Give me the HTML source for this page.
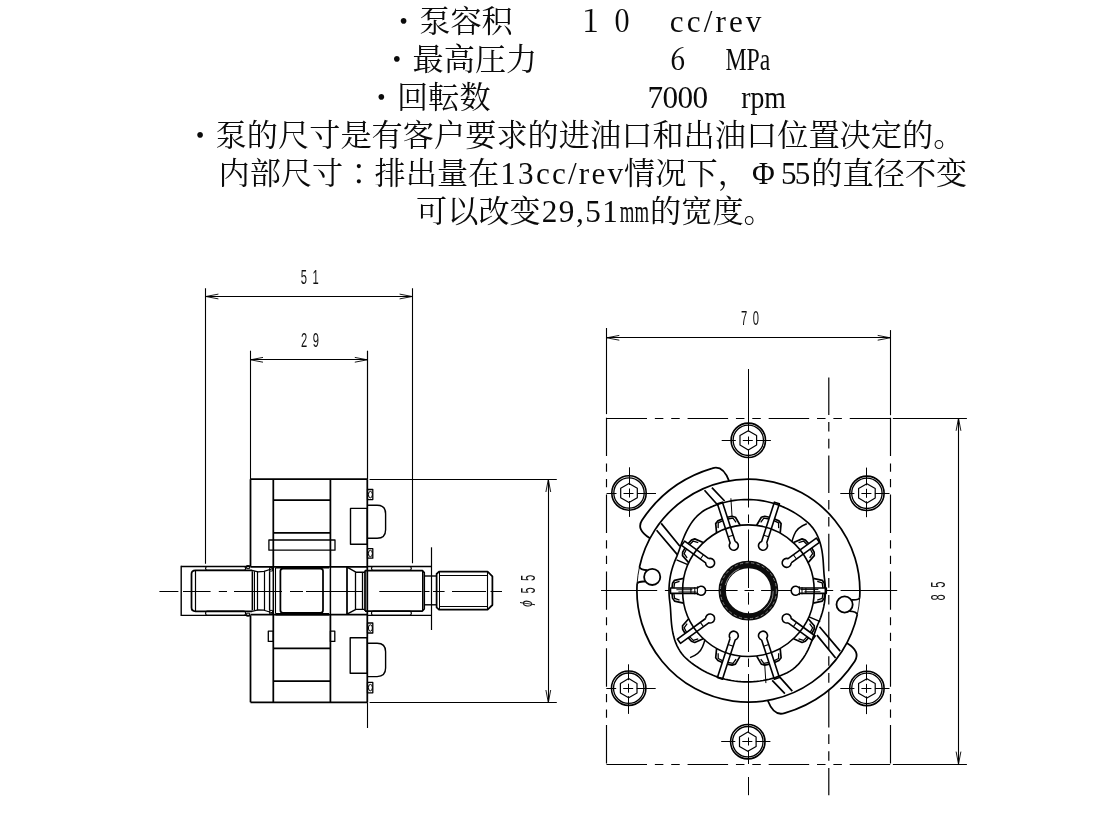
<!DOCTYPE html>
<html lang="zh"><head><meta charset="utf-8"><title>泵容积</title>
<style>html,body{margin:0;padding:0;background:#fff;}body{width:1099px;height:813px;overflow:hidden;}svg{display:block;filter:grayscale(1);}.t{font-family:"Liberation Serif","Noto Serif CJK SC",serif;font-size:31.2px;fill:#0a0a0a;stroke:none;}</style></head><body>
<svg width="1099" height="813" viewBox="0 0 1099 813" fill="none" stroke="#000" stroke-linecap="butt" stroke-linejoin="round">
<rect x="0" y="0" width="1099" height="813" fill="#fff" stroke="none"/>
<text class="t c" x="388.0" y="31.5" textLength="124.8" lengthAdjust="spacing">・泵容积</text>
<text class="t c" x="583.0 614.2" y="31.5" style="font-feature-settings:'hwid'">１０</text>
<text class="t" x="669.8" y="31.5" textLength="91.6" lengthAdjust="spacing">cc/rev</text>
<text class="t c" x="381.3" y="69.5" textLength="156.0" lengthAdjust="spacing">・最高圧力</text>
<text class="t c" x="669.9" y="69.5" style="font-feature-settings:'hwid'">６</text>
<text class="t" x="725.5" y="69.5" textLength="44.8" lengthAdjust="spacingAndGlyphs">MPa</text>
<text class="t c" x="365.8" y="107.5" textLength="124.8" lengthAdjust="spacing">・回転数</text>
<text class="t" x="647.6" y="107.5" textLength="60.4" lengthAdjust="spacing">7000</text>
<text class="t" x="741.2" y="107.5" textLength="44.8" lengthAdjust="spacingAndGlyphs">rpm</text>
<text class="t c" x="184.4" y="145.5" textLength="780.0" lengthAdjust="spacing">・泵的尺寸是有客户要求的进油口和出油口位置决定的。</text>
<text class="t c" x="218.5" y="183.5" textLength="280.8" lengthAdjust="spacing">内部尺寸<tspan lang="ja">：</tspan>排出量在</text>
<text class="t" x="500.3" y="183.5" textLength="122.8" lengthAdjust="spacing">13cc/rev</text>
<text class="t c" x="624.1" y="183.5" textLength="124.8" lengthAdjust="spacing">情况下，</text>
<text class="t c" x="763.5" y="183.5" text-anchor="middle">Φ</text>
<text class="t" x="781.1" y="183.5" textLength="29.2" lengthAdjust="spacing">55</text>
<text class="t c" x="811.3" y="183.5" textLength="156.0" lengthAdjust="spacing">的直径不变</text>
<text class="t c" x="416.0" y="221.5" textLength="124.8" lengthAdjust="spacing">可以改变</text>
<text class="t" x="541.8" y="221.5" textLength="76.0" lengthAdjust="spacing">29,51</text>
<text class="t" x="619.8" y="221.5" textLength="29.2" lengthAdjust="spacingAndGlyphs">mm</text>
<text class="t c" x="650.0" y="221.5" textLength="124.8" lengthAdjust="spacing">的宽度。</text>
<line x1="205.50" y1="288.20" x2="205.50" y2="563.70" stroke-width="1.1"/>
<line x1="412.50" y1="288.20" x2="412.50" y2="563.30" stroke-width="1.1"/>
<line x1="205.90" y1="296.50" x2="412.10" y2="296.50" stroke-width="1.1"/>
<path d="M218.40,294.10 L205.90,296.50 L218.40,298.90" stroke-width="0.9"/>
<path d="M399.60,298.90 L412.10,296.50 L399.60,294.10" stroke-width="0.9"/>
<text transform="translate(309.80,283.90) rotate(0) scale(0.56,1)" x="4.98" y="0" font-family="'Liberation Sans', sans-serif" font-size="20.0" letter-spacing="9.95" text-anchor="middle" fill="#111" stroke="none">51</text>
<line x1="250.50" y1="350.70" x2="250.50" y2="479.20" stroke-width="1.1"/>
<line x1="367.50" y1="350.70" x2="367.50" y2="479.20" stroke-width="1.2"/>
<line x1="250.50" y1="359.50" x2="367.30" y2="359.50" stroke-width="1.1"/>
<path d="M263.00,357.40 L250.50,359.80 L263.00,362.20" stroke-width="0.9"/>
<path d="M354.80,362.20 L367.30,359.80 L354.80,357.40" stroke-width="0.9"/>
<text transform="translate(309.90,347.30) rotate(0) scale(0.56,1)" x="4.98" y="0" font-family="'Liberation Sans', sans-serif" font-size="20.0" letter-spacing="9.95" text-anchor="middle" fill="#111" stroke="none">29</text>
<line x1="369.60" y1="479.50" x2="556.80" y2="479.50" stroke-width="1.1"/>
<line x1="369.60" y1="702.50" x2="556.80" y2="702.50" stroke-width="1.1"/>
<line x1="548.50" y1="479.50" x2="548.50" y2="702.50" stroke-width="1.1"/>
<path d="M550.70,492.00 L548.30,479.50 L545.90,492.00" stroke-width="0.9"/>
<path d="M545.90,690.00 L548.30,702.50 L550.70,690.00" stroke-width="0.9"/>
<text transform="translate(534.80,584.20) rotate(-90) scale(0.56,1)" x="5.51" y="0" font-family="'Liberation Sans', sans-serif" font-size="20.0" letter-spacing="11.02" text-anchor="middle" fill="#111" stroke="none">55</text>
<text transform="translate(532.4,603.6) rotate(-90) scale(0.72,1)" font-family="'Liberation Sans', sans-serif" font-style="italic" font-size="17" text-anchor="middle" fill="#111" stroke="none">ϕ</text>
<line x1="159.40" y1="591.50" x2="178.40" y2="591.50" stroke-width="1.0"/>
<line x1="183.00" y1="591.50" x2="210.60" y2="591.50" stroke-width="1.0"/>
<line x1="218.80" y1="591.50" x2="227.00" y2="591.50" stroke-width="1.0"/>
<line x1="234.00" y1="591.50" x2="282.00" y2="591.50" stroke-width="1.0"/>
<line x1="290.00" y1="591.50" x2="303.00" y2="591.50" stroke-width="1.0"/>
<line x1="306.00" y1="591.50" x2="363.00" y2="591.50" stroke-width="1.0"/>
<line x1="379.30" y1="591.50" x2="421.50" y2="591.50" stroke-width="1.0"/>
<line x1="425.00" y1="591.50" x2="429.50" y2="591.50" stroke-width="1.0"/>
<line x1="433.00" y1="591.50" x2="444.60" y2="591.50" stroke-width="1.0"/>
<line x1="452.00" y1="591.50" x2="486.00" y2="591.50" stroke-width="1.0"/>
<line x1="490.50" y1="591.50" x2="502.00" y2="591.50" stroke-width="1.0"/>
<line x1="181.20" y1="566.50" x2="250.50" y2="566.50" stroke-width="1.4"/>
<line x1="181.20" y1="615.40" x2="250.50" y2="615.40" stroke-width="1.4"/>
<line x1="181.20" y1="565.80" x2="181.20" y2="616.10" stroke-width="1.4"/>
<line x1="367.30" y1="566.50" x2="431.10" y2="566.50" stroke-width="1.4"/>
<line x1="367.30" y1="615.40" x2="431.10" y2="615.40" stroke-width="1.4"/>
<line x1="431.50" y1="547.30" x2="431.50" y2="630.00" stroke-width="1.2"/>
<rect x="205.60" y="566.50" width="40.00" height="3.90" rx="1.8" stroke-width="1.2"/>
<rect x="205.60" y="611.20" width="40.00" height="4.20" rx="1.8" stroke-width="1.2"/>
<rect x="371.50" y="566.50" width="39.80" height="3.90" rx="1.8" stroke-width="1.2"/>
<rect x="371.50" y="611.20" width="39.80" height="4.20" rx="1.8" stroke-width="1.2"/>
<line x1="250.50" y1="479.20" x2="367.30" y2="479.20" stroke-width="1.75"/>
<line x1="250.50" y1="702.30" x2="367.30" y2="702.30" stroke-width="1.75"/>
<line x1="250.50" y1="479.20" x2="250.50" y2="566.50" stroke-width="1.75"/>
<line x1="250.50" y1="615.40" x2="250.50" y2="702.30" stroke-width="1.75"/>
<line x1="367.30" y1="479.20" x2="367.30" y2="702.30" stroke-width="1.75"/>
<line x1="367.50" y1="702.30" x2="367.50" y2="728.00" stroke-width="1.1"/>
<line x1="250.50" y1="566.80" x2="367.30" y2="566.80" stroke-width="1.75"/>
<line x1="250.50" y1="614.60" x2="367.30" y2="614.60" stroke-width="1.75"/>
<line x1="273.30" y1="479.20" x2="273.30" y2="566.80" stroke-width="1.75"/>
<line x1="273.30" y1="614.60" x2="273.30" y2="702.30" stroke-width="1.75"/>
<line x1="330.40" y1="479.20" x2="330.40" y2="566.80" stroke-width="1.75"/>
<line x1="330.40" y1="614.60" x2="330.40" y2="702.30" stroke-width="1.75"/>
<line x1="273.30" y1="500.00" x2="330.40" y2="500.00" stroke-width="1.75"/>
<line x1="273.30" y1="532.90" x2="330.40" y2="532.90" stroke-width="1.75"/>
<line x1="273.30" y1="648.40" x2="330.40" y2="648.40" stroke-width="1.75"/>
<line x1="273.30" y1="681.00" x2="330.40" y2="681.00" stroke-width="1.75"/>
<rect x="268.90" y="540.00" width="66.10" height="10.20" stroke-width="1.3"/>
<rect x="268.30" y="631.20" width="5.00" height="10.20" stroke-width="1.3"/>
<rect x="330.40" y="631.20" width="4.40" height="10.20" stroke-width="1.3"/>
<rect x="350.50" y="508.40" width="16.80" height="35.90" stroke-width="1.4"/>
<rect x="350.20" y="637.80" width="17.10" height="35.50" stroke-width="1.4"/>
<path d="M368.0,505.2 L377.1,505.2 Q385.6,505.2 385.6,513.7 L385.6,529.8 Q385.6,538.3 377.1,538.3 L368.0,538.3" stroke-width="1.4"/>
<path d="M368.0,643.3 L377.1,643.3 Q385.6,643.3 385.6,651.8 L385.6,668.1 Q385.6,676.6 377.1,676.6 L368.0,676.6" stroke-width="1.4"/>
<rect x="367.50" y="489.50" width="5.30" height="10.10" stroke-width="1.3"/>
<ellipse cx="370.4" cy="494.6" rx="2.0" ry="3.2" stroke-width="1"/>
<rect x="367.50" y="548.70" width="5.30" height="9.50" stroke-width="1.3"/>
<ellipse cx="370.4" cy="553.5" rx="2.0" ry="3.2" stroke-width="1"/>
<rect x="367.50" y="623.00" width="5.30" height="10.00" stroke-width="1.3"/>
<ellipse cx="370.4" cy="628.0" rx="2.0" ry="3.2" stroke-width="1"/>
<rect x="367.50" y="682.40" width="5.30" height="10.40" stroke-width="1.3"/>
<ellipse cx="370.4" cy="687.6" rx="2.0" ry="3.2" stroke-width="1"/>
<path d="M252,570.3 L195.5,570.3 Q191.5,570.3 191.5,574 L191.5,607.6 Q191.5,611.3 195.5,611.3 L252,611.3" stroke-width="1.75"/>
<line x1="195.50" y1="570.30" x2="195.50" y2="611.30" stroke-width="1.2"/>
<line x1="252.40" y1="571.20" x2="252.40" y2="610.40" stroke-width="1.6"/>
<line x1="254.50" y1="571.20" x2="254.50" y2="610.40" stroke-width="1.0"/>
<line x1="257.50" y1="571.20" x2="257.50" y2="610.40" stroke-width="1.2"/>
<line x1="264.50" y1="571.20" x2="264.50" y2="610.40" stroke-width="1.2"/>
<line x1="269.60" y1="571.20" x2="269.60" y2="610.40" stroke-width="1.4"/>
<path d="M252,570.3 L258,571.8 L264,571.4 L273,568.5" stroke-width="1.2"/>
<path d="M252,611.3 L258,609.8 L264,610.2 L273,613.0" stroke-width="1.2"/>
<rect x="280.40" y="568.60" width="42.60" height="44.20" rx="2.5" stroke-width="1.75"/>
<line x1="275.50" y1="567.40" x2="329.00" y2="567.40" stroke-width="2.4"/>
<line x1="275.50" y1="614.20" x2="329.00" y2="614.20" stroke-width="2.4"/>
<line x1="275.50" y1="568.00" x2="275.50" y2="613.60" stroke-width="1.1"/>
<line x1="273.30" y1="566.80" x2="273.30" y2="614.60" stroke-width="1.5"/>
<line x1="330.40" y1="566.80" x2="330.40" y2="614.60" stroke-width="1.5"/>
<rect x="269.60" y="567.60" width="3.00" height="3.40" stroke-width="1.0"/>
<rect x="269.60" y="610.40" width="3.00" height="3.40" stroke-width="1.0"/>
<rect x="246.60" y="565.60" width="3.00" height="3.00" stroke-width="1.0"/>
<rect x="246.60" y="613.20" width="3.00" height="3.00" stroke-width="1.0"/>
<line x1="347.00" y1="566.80" x2="347.00" y2="614.60" stroke-width="1.75"/>
<path d="M347,567.2 L355.9,572.2 L364.8,572.2" stroke-width="1.4"/>
<path d="M347,614.2 L355.9,609.4 L364.8,609.4" stroke-width="1.4"/>
<line x1="355.50" y1="572.20" x2="355.50" y2="609.40" stroke-width="1.3"/>
<line x1="362.50" y1="572.20" x2="362.50" y2="609.40" stroke-width="1.3"/>
<path d="M365,570.6 L422.4,570.6 L424.2,572.6 L424.2,609.0 L422.4,611.0 L365,611.0" stroke-width="1.75"/>
<line x1="365.00" y1="570.60" x2="365.00" y2="611.00" stroke-width="1.75"/>
<line x1="422.50" y1="571.00" x2="422.50" y2="610.60" stroke-width="1.0"/>
<line x1="424.20" y1="576.00" x2="436.60" y2="576.00" stroke-width="1.4"/>
<line x1="424.20" y1="604.80" x2="436.60" y2="604.80" stroke-width="1.4"/>
<path d="M439.0,571.7 L487.6,571.7 L492.4,576.4 L492.4,605.0 L487.6,609.6 L439.0,609.6 L436.6,607.4 L436.6,574.0 Z" stroke-width="1.75"/>
<line x1="439.00" y1="575.50" x2="487.60" y2="575.50" stroke-width="1.1"/>
<line x1="439.00" y1="606.50" x2="487.60" y2="606.50" stroke-width="1.1"/>
<line x1="487.50" y1="571.70" x2="487.50" y2="609.60" stroke-width="1.1"/>
<line x1="439.50" y1="572.00" x2="439.50" y2="609.40" stroke-width="1.0"/>
<line x1="606.50" y1="328.00" x2="606.50" y2="414.10" stroke-width="1.1"/>
<line x1="890.50" y1="330.10" x2="890.50" y2="415.20" stroke-width="1.1"/>
<line x1="606.80" y1="337.50" x2="890.20" y2="337.50" stroke-width="1.1"/>
<path d="M619.30,335.40 L606.80,337.80 L619.30,340.20" stroke-width="0.9"/>
<path d="M877.70,340.20 L890.20,337.80 L877.70,335.40" stroke-width="0.9"/>
<text transform="translate(750.00,324.50) rotate(0) scale(0.56,1)" x="4.98" y="0" font-family="'Liberation Sans', sans-serif" font-size="20.0" letter-spacing="9.95" text-anchor="middle" fill="#111" stroke="none">70</text>
<line x1="892.90" y1="418.50" x2="966.90" y2="418.50" stroke-width="1.1"/>
<line x1="892.90" y1="764.50" x2="966.90" y2="764.50" stroke-width="1.1"/>
<line x1="958.50" y1="418.30" x2="958.50" y2="764.10" stroke-width="1.1"/>
<path d="M960.90,430.80 L958.50,418.30 L956.10,430.80" stroke-width="0.9"/>
<path d="M956.10,751.60 L958.50,764.10 L960.90,751.60" stroke-width="0.9"/>
<text transform="translate(945.00,591.00) rotate(-90) scale(0.56,1)" x="5.87" y="0" font-family="'Liberation Sans', sans-serif" font-size="20.0" letter-spacing="11.74" text-anchor="middle" fill="#111" stroke="none">85</text>
<path d="M606.5,418.5 L890.2,418.5" stroke-width="1.15" stroke-dasharray="40.5 7.86 8.5 7.86 8.5 7.86"/>
<path d="M606.5,417.7 L606.5,764.1" stroke-width="1.15" stroke-dasharray="38.4 7.35 8.2 7.35 8.2 7.35"/>
<path d="M606.5,764.5 L890.2,764.5" stroke-width="1.15" stroke-dasharray="40.5 7.86 8.5 7.86 8.5 7.86"/>
<path d="M890.5,417.7 L890.5,764.1" stroke-width="1.15" stroke-dasharray="38.4 7.35 8.2 7.35 8.2 7.35"/>
<line x1="748.50" y1="369.00" x2="748.50" y2="431.50" stroke-width="1.0"/>
<line x1="748.50" y1="436.50" x2="748.50" y2="444.50" stroke-width="1.0"/>
<line x1="748.50" y1="449.50" x2="748.50" y2="507.50" stroke-width="1.0"/>
<line x1="748.50" y1="514.50" x2="748.50" y2="523.00" stroke-width="1.0"/>
<line x1="748.50" y1="529.50" x2="748.50" y2="588.00" stroke-width="1.0"/>
<line x1="748.50" y1="592.30" x2="748.50" y2="604.60" stroke-width="1.0"/>
<line x1="748.50" y1="611.50" x2="748.50" y2="652.00" stroke-width="1.0"/>
<line x1="748.50" y1="658.50" x2="748.50" y2="667.00" stroke-width="1.0"/>
<line x1="748.50" y1="674.00" x2="748.50" y2="733.00" stroke-width="1.0"/>
<line x1="748.50" y1="737.50" x2="748.50" y2="745.50" stroke-width="1.0"/>
<line x1="748.50" y1="750.50" x2="748.50" y2="764.00" stroke-width="1.0"/>
<line x1="748.50" y1="777.00" x2="748.50" y2="795.20" stroke-width="1.0"/>
<line x1="601.00" y1="590.50" x2="657.20" y2="590.50" stroke-width="1.0"/>
<line x1="664.90" y1="590.50" x2="669.60" y2="590.50" stroke-width="1.0"/>
<line x1="705.70" y1="590.50" x2="737.60" y2="590.50" stroke-width="1.0"/>
<line x1="744.50" y1="590.50" x2="754.00" y2="590.50" stroke-width="1.0"/>
<line x1="761.10" y1="590.50" x2="792.00" y2="590.50" stroke-width="1.0"/>
<line x1="826.50" y1="590.50" x2="833.20" y2="590.50" stroke-width="1.0"/>
<line x1="840.60" y1="590.50" x2="897.20" y2="590.50" stroke-width="1.0"/>
<path d="M828.8,377.5 L828.8,795.2" stroke-width="1.2" stroke-dasharray="37.5 6.9 9.6 7.3 9.6 7.2"/>
<circle cx="748.30" cy="440.30" r="17.20" stroke-width="1.6"/>
<circle cx="748.30" cy="440.30" r="15.20" stroke-width="1.3"/>
<path d="M748.30,430.70 L756.61,435.50 L756.61,445.10 L748.30,449.90 L739.99,445.10 L739.99,435.50 Z" stroke-width="1.2"/>
<line x1="721.70" y1="440.50" x2="735.80" y2="440.50" stroke-width="1.0"/>
<line x1="742.80" y1="440.50" x2="752.80" y2="440.50" stroke-width="1.0"/>
<line x1="756.30" y1="440.50" x2="770.90" y2="440.50" stroke-width="1.0"/>
<circle cx="747.80" cy="741.70" r="17.20" stroke-width="1.6"/>
<circle cx="747.80" cy="741.70" r="15.20" stroke-width="1.3"/>
<path d="M747.80,732.10 L756.11,736.90 L756.11,746.50 L747.80,751.30 L739.49,746.50 L739.49,736.90 Z" stroke-width="1.2"/>
<line x1="721.20" y1="741.50" x2="735.30" y2="741.50" stroke-width="1.0"/>
<line x1="742.30" y1="741.50" x2="752.30" y2="741.50" stroke-width="1.0"/>
<line x1="755.80" y1="741.50" x2="770.40" y2="741.50" stroke-width="1.0"/>
<circle cx="629.00" cy="493.00" r="17.20" stroke-width="1.6"/>
<circle cx="629.00" cy="493.00" r="15.20" stroke-width="1.3"/>
<path d="M629.00,483.40 L637.31,488.20 L637.31,497.80 L629.00,502.60 L620.69,497.80 L620.69,488.20 Z" stroke-width="1.2"/>
<line x1="606.60" y1="493.50" x2="616.50" y2="493.50" stroke-width="1.0"/>
<line x1="623.50" y1="493.50" x2="633.50" y2="493.50" stroke-width="1.0"/>
<line x1="637.00" y1="493.50" x2="656.00" y2="493.50" stroke-width="1.0"/>
<line x1="629.50" y1="467.30" x2="629.50" y2="485.00" stroke-width="1.0"/>
<line x1="629.50" y1="488.50" x2="629.50" y2="497.50" stroke-width="1.0"/>
<line x1="629.50" y1="501.00" x2="629.50" y2="516.90" stroke-width="1.0"/>
<circle cx="628.70" cy="688.20" r="17.20" stroke-width="1.6"/>
<circle cx="628.70" cy="688.20" r="15.20" stroke-width="1.3"/>
<path d="M628.70,678.60 L637.01,683.40 L637.01,693.00 L628.70,697.80 L620.39,693.00 L620.39,683.40 Z" stroke-width="1.2"/>
<line x1="606.30" y1="688.50" x2="616.20" y2="688.50" stroke-width="1.0"/>
<line x1="623.20" y1="688.50" x2="633.20" y2="688.50" stroke-width="1.0"/>
<line x1="636.70" y1="688.50" x2="655.70" y2="688.50" stroke-width="1.0"/>
<line x1="628.50" y1="664.30" x2="628.50" y2="680.20" stroke-width="1.0"/>
<line x1="628.50" y1="683.70" x2="628.50" y2="692.70" stroke-width="1.0"/>
<line x1="628.50" y1="696.20" x2="628.50" y2="713.90" stroke-width="1.0"/>
<circle cx="866.90" cy="493.30" r="17.20" stroke-width="1.6"/>
<circle cx="866.90" cy="493.30" r="15.20" stroke-width="1.3"/>
<path d="M866.90,483.70 L875.21,488.50 L875.21,498.10 L866.90,502.90 L858.59,498.10 L858.59,488.50 Z" stroke-width="1.2"/>
<line x1="840.30" y1="493.50" x2="854.40" y2="493.50" stroke-width="1.0"/>
<line x1="861.40" y1="493.50" x2="871.40" y2="493.50" stroke-width="1.0"/>
<line x1="874.90" y1="493.50" x2="889.50" y2="493.50" stroke-width="1.0"/>
<line x1="866.50" y1="467.60" x2="866.50" y2="485.30" stroke-width="1.0"/>
<line x1="866.50" y1="488.80" x2="866.50" y2="497.80" stroke-width="1.0"/>
<line x1="866.50" y1="501.30" x2="866.50" y2="517.20" stroke-width="1.0"/>
<circle cx="866.90" cy="688.40" r="17.20" stroke-width="1.6"/>
<circle cx="866.90" cy="688.40" r="15.20" stroke-width="1.3"/>
<path d="M866.90,678.80 L875.21,683.60 L875.21,693.20 L866.90,698.00 L858.59,693.20 L858.59,683.60 Z" stroke-width="1.2"/>
<line x1="840.30" y1="688.50" x2="854.40" y2="688.50" stroke-width="1.0"/>
<line x1="861.40" y1="688.50" x2="871.40" y2="688.50" stroke-width="1.0"/>
<line x1="874.90" y1="688.50" x2="889.50" y2="688.50" stroke-width="1.0"/>
<line x1="866.50" y1="664.50" x2="866.50" y2="680.40" stroke-width="1.0"/>
<line x1="866.50" y1="683.90" x2="866.50" y2="692.90" stroke-width="1.0"/>
<line x1="866.50" y1="696.40" x2="866.50" y2="714.10" stroke-width="1.0"/>
<g transform="translate(748.4,590.7)">
<path d="M-111.28,-7.00 A111.5,111.5 0 0 0 108.95,23.70" stroke-width="1.75"/>
<path d="M-108.95,-23.70 A111.5,111.5 0 0 0 -111.28,-7.00" stroke-width="0.9"/>
<circle cx="-96.20" cy="-13.80" r="8.10" stroke-width="1.8"/>
<path d="M-108.95,-23.70 Q-108.15,-20.90 -100.85,-20.44" stroke-width="1.8"/>
<path d="M-102.84,-9.15 Q-110.28,-9.60 -111.28,-7.00" stroke-width="1.8"/>
<path d="M-19.36,-109.81 Q-25.64,-126.02 -36.24,-122.35 A127.6,127.6 0 0 0 -106.40,-70.43 Q-112.58,-61.12 -98.45,-52.35" stroke-width="1.8"/>
<path d="M-43.9,-100.4 L-30.3,-85.2 M-36.5,-103.0 L-23.8,-89.7" stroke-width="1.7"/>
<path d="M-91.8,-60.4 L-71.1,-36.1 M-87.2,-67.3 L-68.5,-44.4" stroke-width="1.7"/>
<path d="M-60.62,-26.11 L-71.82,-30.93" stroke-width="1.4"/>
<path d="M58.37,-66.92 Q48.81,-63.38 45.86,-56.03 T44.16,-49.05" stroke-width="1.5"/>
<path d="M-16.3,-73.2 L-17.5,-92.4" stroke-width="1.0"/>
<path d="M-13.22,-49.26 L-25.97,-88.51 L-31.01,-86.87 L-18.26,-47.63 A4.5,4.5 0 1 0 -13.22,-49.26" stroke-width="1.6"/>
<path d="M-15.25,-55.50 L-20.29,-53.87" stroke-width="1.1"/>
<path d="M-31.80,-57.84 L-32.70,-67.05 L-30.51,-69.83 L-26.13,-71.79" stroke-width="1.7"/>
<path d="M-30.25,-62.57 L-30.18,-67.79 L-25.51,-70.10" stroke-width="1.3"/>
<path d="M-8.27,-65.48 L-12.95,-73.47 L-16.36,-74.42 L-21.06,-73.44" stroke-width="1.7"/>
<path d="M-12.31,-68.40 L-15.43,-72.58 L-20.56,-71.71" stroke-width="1.3"/>
<path d="M-39.65,-32.08 L-63.74,-49.58 L-66.85,-45.30 L-42.77,-27.80 A4.5,4.5 0 1 0 -39.65,-32.08" stroke-width="1.6"/>
<path d="M-44.96,-35.94 L-48.08,-31.65" stroke-width="1.1"/>
<path d="M-59.72,-28.10 L-65.87,-35.02 L-65.72,-38.56 L-63.34,-42.72" stroke-width="1.7"/>
<path d="M-61.25,-32.84 L-64.26,-37.10 L-61.85,-41.72" stroke-width="1.3"/>
<path d="M-45.18,-48.11 L-53.66,-51.82 L-56.98,-50.59 L-60.20,-47.04" stroke-width="1.7"/>
<path d="M-50.16,-48.10 L-55.14,-49.65 L-58.79,-45.93" stroke-width="1.3"/>
<path d="M-50.94,-2.65 L-77.90,-2.65 L-77.90,2.65 L-50.94,2.65 A4.5,4.5 0 1 0 -50.94,-2.65" stroke-width="1.6"/>
<path d="M-57.50,-2.65 L-57.50,2.65" stroke-width="1.1"/>
<path d="M-56.00,-1.00 L-72.00,-1.00 M-52.00,1.20 L-70.00,1.20" stroke-width="0.9"/>
<path d="M-51.00,-4.4 L-51.00,4.4 M-53.60,-3.6 L-53.60,3.6" stroke-width="1.0"/>
<path d="M-64.83,12.37 L-73.87,10.38 L-75.84,7.44 L-76.35,2.67" stroke-width="1.7"/>
<path d="M-68.86,9.43 L-73.79,7.76 L-74.55,2.60" stroke-width="1.3"/>
<path d="M-64.83,-12.37 L-73.87,-10.38 L-75.84,-7.44 L-76.35,-2.67" stroke-width="1.7"/>
<path d="M-68.86,-9.43 L-73.79,-7.76 L-74.55,-2.60" stroke-width="1.3"/>
<path d="M-42.77,27.80 L-71.05,48.34 L-67.93,52.63 L-39.65,32.08 A4.5,4.5 0 1 0 -42.77,27.80" stroke-width="1.6"/>
<path d="M-48.08,31.65 L-44.96,35.94" stroke-width="1.1"/>
<path d="M-45.18,48.11 L-53.66,51.82 L-56.98,50.59 L-60.20,47.04" stroke-width="1.7"/>
<path d="M-50.16,48.10 L-55.14,49.65 L-58.79,45.93" stroke-width="1.3"/>
<path d="M-59.72,28.10 L-65.87,35.02 L-65.72,38.56 L-63.34,42.72" stroke-width="1.7"/>
<path d="M-61.25,32.84 L-64.26,37.10 L-61.85,41.72" stroke-width="1.3"/>
<path d="M-18.26,47.63 L-31.01,86.87 L-25.97,88.51 L-13.22,49.26 A4.5,4.5 0 1 0 -18.26,47.63" stroke-width="1.6"/>
<path d="M-20.29,53.87 L-15.25,55.50" stroke-width="1.1"/>
<path d="M-8.27,65.48 L-12.95,73.47 L-16.36,74.42 L-21.06,73.44" stroke-width="1.7"/>
<path d="M-12.31,68.40 L-15.43,72.58 L-20.56,71.71" stroke-width="1.3"/>
<path d="M-31.80,57.84 L-32.70,67.05 L-30.51,69.83 L-26.13,71.79" stroke-width="1.7"/>
<path d="M-30.25,62.57 L-30.18,67.79 L-25.51,70.10" stroke-width="1.3"/>
<g transform="rotate(180)">
<path d="M-111.28,-7.00 A111.5,111.5 0 0 0 108.95,23.70" stroke-width="1.75"/>
<path d="M-108.95,-23.70 A111.5,111.5 0 0 0 -111.28,-7.00" stroke-width="0.9"/>
<circle cx="-96.20" cy="-13.80" r="8.10" stroke-width="1.8"/>
<path d="M-108.95,-23.70 Q-108.15,-20.90 -100.85,-20.44" stroke-width="1.8"/>
<path d="M-102.84,-9.15 Q-110.28,-9.60 -111.28,-7.00" stroke-width="1.8"/>
<path d="M-19.36,-109.81 Q-25.64,-126.02 -36.24,-122.35 A127.6,127.6 0 0 0 -106.40,-70.43 Q-112.58,-61.12 -98.45,-52.35" stroke-width="1.8"/>
<path d="M-43.9,-100.4 L-30.3,-85.2 M-36.5,-103.0 L-23.8,-89.7" stroke-width="1.7"/>
<path d="M-91.8,-60.4 L-71.1,-36.1 M-87.2,-67.3 L-68.5,-44.4" stroke-width="1.7"/>
<path d="M-60.62,-26.11 L-71.82,-30.93" stroke-width="1.4"/>
<path d="M58.37,-66.92 Q48.81,-63.38 45.86,-56.03 T44.16,-49.05" stroke-width="1.5"/>
<path d="M-16.3,-73.2 L-17.5,-92.4" stroke-width="1.0"/>
<path d="M-13.22,-49.26 L-25.97,-88.51 L-31.01,-86.87 L-18.26,-47.63 A4.5,4.5 0 1 0 -13.22,-49.26" stroke-width="1.6"/>
<path d="M-15.25,-55.50 L-20.29,-53.87" stroke-width="1.1"/>
<path d="M-31.80,-57.84 L-32.70,-67.05 L-30.51,-69.83 L-26.13,-71.79" stroke-width="1.7"/>
<path d="M-30.25,-62.57 L-30.18,-67.79 L-25.51,-70.10" stroke-width="1.3"/>
<path d="M-8.27,-65.48 L-12.95,-73.47 L-16.36,-74.42 L-21.06,-73.44" stroke-width="1.7"/>
<path d="M-12.31,-68.40 L-15.43,-72.58 L-20.56,-71.71" stroke-width="1.3"/>
<path d="M-39.65,-32.08 L-63.74,-49.58 L-66.85,-45.30 L-42.77,-27.80 A4.5,4.5 0 1 0 -39.65,-32.08" stroke-width="1.6"/>
<path d="M-44.96,-35.94 L-48.08,-31.65" stroke-width="1.1"/>
<path d="M-59.72,-28.10 L-65.87,-35.02 L-65.72,-38.56 L-63.34,-42.72" stroke-width="1.7"/>
<path d="M-61.25,-32.84 L-64.26,-37.10 L-61.85,-41.72" stroke-width="1.3"/>
<path d="M-45.18,-48.11 L-53.66,-51.82 L-56.98,-50.59 L-60.20,-47.04" stroke-width="1.7"/>
<path d="M-50.16,-48.10 L-55.14,-49.65 L-58.79,-45.93" stroke-width="1.3"/>
<path d="M-50.94,-2.65 L-77.90,-2.65 L-77.90,2.65 L-50.94,2.65 A4.5,4.5 0 1 0 -50.94,-2.65" stroke-width="1.6"/>
<path d="M-57.50,-2.65 L-57.50,2.65" stroke-width="1.1"/>
<path d="M-56.00,-1.00 L-72.00,-1.00 M-52.00,1.20 L-70.00,1.20" stroke-width="0.9"/>
<path d="M-51.00,-4.4 L-51.00,4.4 M-53.60,-3.6 L-53.60,3.6" stroke-width="1.0"/>
<path d="M-64.83,12.37 L-73.87,10.38 L-75.84,7.44 L-76.35,2.67" stroke-width="1.7"/>
<path d="M-68.86,9.43 L-73.79,7.76 L-74.55,2.60" stroke-width="1.3"/>
<path d="M-64.83,-12.37 L-73.87,-10.38 L-75.84,-7.44 L-76.35,-2.67" stroke-width="1.7"/>
<path d="M-68.86,-9.43 L-73.79,-7.76 L-74.55,-2.60" stroke-width="1.3"/>
<path d="M-42.77,27.80 L-71.05,48.34 L-67.93,52.63 L-39.65,32.08 A4.5,4.5 0 1 0 -42.77,27.80" stroke-width="1.6"/>
<path d="M-48.08,31.65 L-44.96,35.94" stroke-width="1.1"/>
<path d="M-45.18,48.11 L-53.66,51.82 L-56.98,50.59 L-60.20,47.04" stroke-width="1.7"/>
<path d="M-50.16,48.10 L-55.14,49.65 L-58.79,45.93" stroke-width="1.3"/>
<path d="M-59.72,28.10 L-65.87,35.02 L-65.72,38.56 L-63.34,42.72" stroke-width="1.7"/>
<path d="M-61.25,32.84 L-64.26,37.10 L-61.85,41.72" stroke-width="1.3"/>
<path d="M-18.26,47.63 L-31.01,86.87 L-25.97,88.51 L-13.22,49.26 A4.5,4.5 0 1 0 -18.26,47.63" stroke-width="1.6"/>
<path d="M-20.29,53.87 L-15.25,55.50" stroke-width="1.1"/>
<path d="M-8.27,65.48 L-12.95,73.47 L-16.36,74.42 L-21.06,73.44" stroke-width="1.7"/>
<path d="M-12.31,68.40 L-15.43,72.58 L-20.56,71.71" stroke-width="1.3"/>
<path d="M-31.80,57.84 L-32.70,67.05 L-30.51,69.83 L-26.13,71.79" stroke-width="1.7"/>
<path d="M-30.25,62.57 L-30.18,67.79 L-25.51,70.10" stroke-width="1.3"/>
</g>
<path d="M-1.20,-91.20 L-4.38,-91.14 L-7.56,-90.98 L-10.73,-90.70 L-13.89,-90.31 L-17.04,-89.81 L-20.16,-89.21 L-23.26,-88.49 L-26.34,-87.67 L-29.38,-86.74 L-32.39,-85.70 L-35.36,-84.56 L-38.29,-83.32 L-41.18,-81.97 L-43.97,-80.44 L-46.62,-78.67 L-49.11,-76.67 L-51.44,-74.49 L-53.61,-72.14 L-55.62,-69.65 L-57.47,-67.06 L-59.16,-64.37 L-60.71,-61.63 L-62.13,-58.84 L-63.42,-56.03 L-64.61,-53.21 L-65.71,-50.40 L-66.74,-47.62 L-67.71,-44.86 L-68.66,-42.16 L-69.61,-39.49 L-70.57,-36.88 L-71.57,-34.32 L-72.64,-31.81 L-73.71,-29.29 L-74.68,-26.75 L-75.57,-24.17 L-76.37,-21.55 L-77.08,-18.92 L-77.69,-16.26 L-78.21,-13.58 L-78.64,-10.88 L-78.97,-8.17 L-79.21,-5.45 L-79.35,-2.73 L-79.40,-0.00 L-79.35,2.73 L-79.21,5.45 L-78.97,8.17 L-78.64,10.88 L-78.30,13.60 L-78.05,16.33 L-77.84,19.11 L-77.67,21.93 L-77.50,24.79 L-77.32,27.71 L-77.10,30.67 L-76.82,33.67 L-76.45,36.70 L-75.99,39.76 L-75.39,42.84 L-74.66,45.90 L-73.77,48.95 L-72.71,51.96 L-71.47,54.90 L-70.03,57.75 L-68.39,60.50 L-66.54,63.10 L-64.49,65.54 L-62.22,67.77 L-59.82,69.86 L-57.35,71.87 L-54.81,73.78 L-52.20,75.61 L-49.53,77.34 L-46.80,78.98 L-44.02,80.52 L-41.18,81.97 L-38.29,83.32 L-35.36,84.56 L-32.39,85.70 L-29.38,86.74 L-26.34,87.67 L-23.26,88.49 L-20.16,89.21 L-17.04,89.81 L-13.89,90.31 L-10.73,90.70 L-7.56,90.98 L-4.38,91.14 L-1.20,91.20 L1.98,91.14 L5.16,90.98 L8.33,90.70 L11.49,90.31 L14.64,89.81 L17.76,89.21 L20.86,88.49 L23.94,87.67 L26.98,86.74 L29.99,85.70 L32.96,84.56 L35.89,83.32 L38.78,81.97 L41.57,80.44 L44.22,78.67 L46.71,76.67 L49.04,74.49 L51.21,72.14 L53.22,69.65 L55.07,67.06 L56.76,64.37 L58.31,61.63 L59.73,58.84 L61.02,56.03 L62.21,53.21 L63.31,50.40 L64.34,47.62 L65.31,44.86 L66.26,42.16 L67.21,39.49 L68.17,36.88 L69.17,34.32 L70.24,31.81 L71.31,29.29 L72.28,26.75 L73.17,24.17 L73.97,21.55 L74.68,18.92 L75.29,16.26 L75.81,13.58 L76.24,10.88 L76.57,8.17 L76.81,5.45 L76.95,2.73 L77.00,0.00 L76.95,-2.73 L76.81,-5.45 L76.57,-8.17 L76.24,-10.88 L75.90,-13.60 L75.65,-16.33 L75.44,-19.11 L75.27,-21.93 L75.10,-24.79 L74.92,-27.71 L74.70,-30.67 L74.42,-33.67 L74.05,-36.70 L73.59,-39.76 L72.99,-42.84 L72.26,-45.90 L71.37,-48.95 L70.31,-51.96 L69.07,-54.90 L67.63,-57.75 L65.99,-60.50 L64.14,-63.10 L62.09,-65.54 L59.82,-67.77 L57.42,-69.86 L54.95,-71.87 L52.41,-73.78 L49.80,-75.61 L47.13,-77.34 L44.40,-78.98 L41.62,-80.52 L38.78,-81.97 L35.89,-83.32 L32.96,-84.56 L29.99,-85.70 L26.98,-86.74 L23.94,-87.67 L20.86,-88.49 L17.76,-89.21 L14.64,-89.81 L11.49,-90.31 L8.33,-90.70 L5.16,-90.98 L1.98,-91.14 Z" stroke-width="1.65"/>
<circle cx="0.00" cy="0.00" r="65.80" stroke-width="1.6"/>
<circle cx="0.00" cy="0.00" r="26.20" stroke-width="7.4" stroke="#0c0c0c"/>
<circle cx="0.00" cy="0.00" r="28.00" stroke-width="0.9" stroke-dasharray="3.2 2.4" stroke="#8c8c8c"/>
<circle cx="0.50" cy="0.40" r="24.30" stroke-width="0.7" stroke-dasharray="22 60" stroke="#bdbdbd"/>
</g>
</svg></body></html>
